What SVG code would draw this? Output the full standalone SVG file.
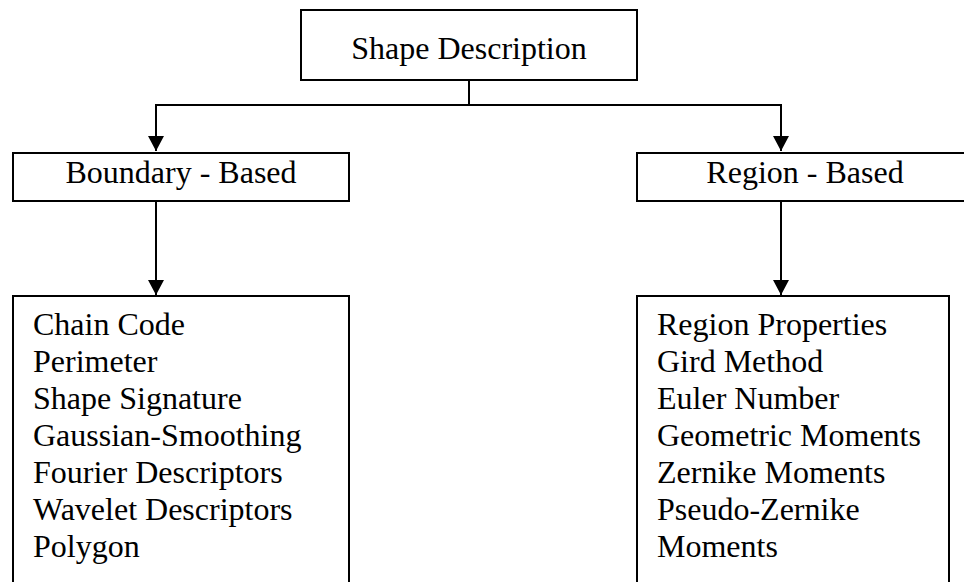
<svg xmlns="http://www.w3.org/2000/svg" width="964" height="582" viewBox="0 0 964 582">
<style>
.box{fill:#fff;stroke:#000;stroke-width:2}
.t{font-family:"Liberation Serif","Times New Roman",serif;font-size:32px;fill:#000}
.c{text-anchor:middle}
.ln{fill:none;stroke:#000;stroke-width:2}
</style>
<defs>
<marker id="ah" markerUnits="userSpaceOnUse" markerWidth="16" markerHeight="16" refX="15" refY="8" orient="auto">
<path d="M0,0 L15,8 L0,16 Z" fill="#000"/>
</marker>
</defs>
<rect width="964" height="582" fill="#fff"/>
<g id="connectors">
<polyline class="ln" points="469,80 469,105 156,105 156,151" marker-end="url(#ah)"/>
<polyline class="ln" points="469,105 781,105 781,151" marker-end="url(#ah)"/>
<line class="ln" x1="156" y1="201" x2="156" y2="295" marker-end="url(#ah)"/>
<line class="ln" x1="781" y1="201" x2="781" y2="295" marker-end="url(#ah)"/>
</g>
<g id="shape-description">
<rect class="box" x="301" y="10" width="336" height="70"/>
<text class="t c" x="469" y="59">Shape Description</text>
</g>
<g id="boundary-based">
<rect class="box" x="13" y="153" width="336" height="48"/>
<text class="t c" x="181" y="183">Boundary - Based</text>
</g>
<g id="region-based">
<rect class="box" x="637" y="153" width="340" height="48"/>
<text class="t c" x="805" y="183">Region - Based</text>
</g>
<g id="boundary-methods">
<rect class="box" x="13" y="296" width="336" height="300"/>
<text class="t" x="33" y="335">Chain Code</text>
<text class="t" x="33" y="372">Perimeter</text>
<text class="t" x="33" y="409">Shape Signature</text>
<text class="t" x="33" y="446">Gaussian-Smoothing</text>
<text class="t" x="33" y="483">Fourier Descriptors</text>
<text class="t" x="33" y="520">Wavelet Descriptors</text>
<text class="t" x="33" y="557">Polygon</text>
</g>
<g id="region-methods">
<rect class="box" x="637" y="296" width="312" height="300"/>
<text class="t" x="657" y="335">Region Properties</text>
<text class="t" x="657" y="372">Gird Method</text>
<text class="t" x="657" y="409">Euler Number</text>
<text class="t" x="657" y="446">Geometric Moments</text>
<text class="t" x="657" y="483">Zernike Moments</text>
<text class="t" x="657" y="520">Pseudo-Zernike</text>
<text class="t" x="657" y="557">Moments</text>
</g>
</svg>
